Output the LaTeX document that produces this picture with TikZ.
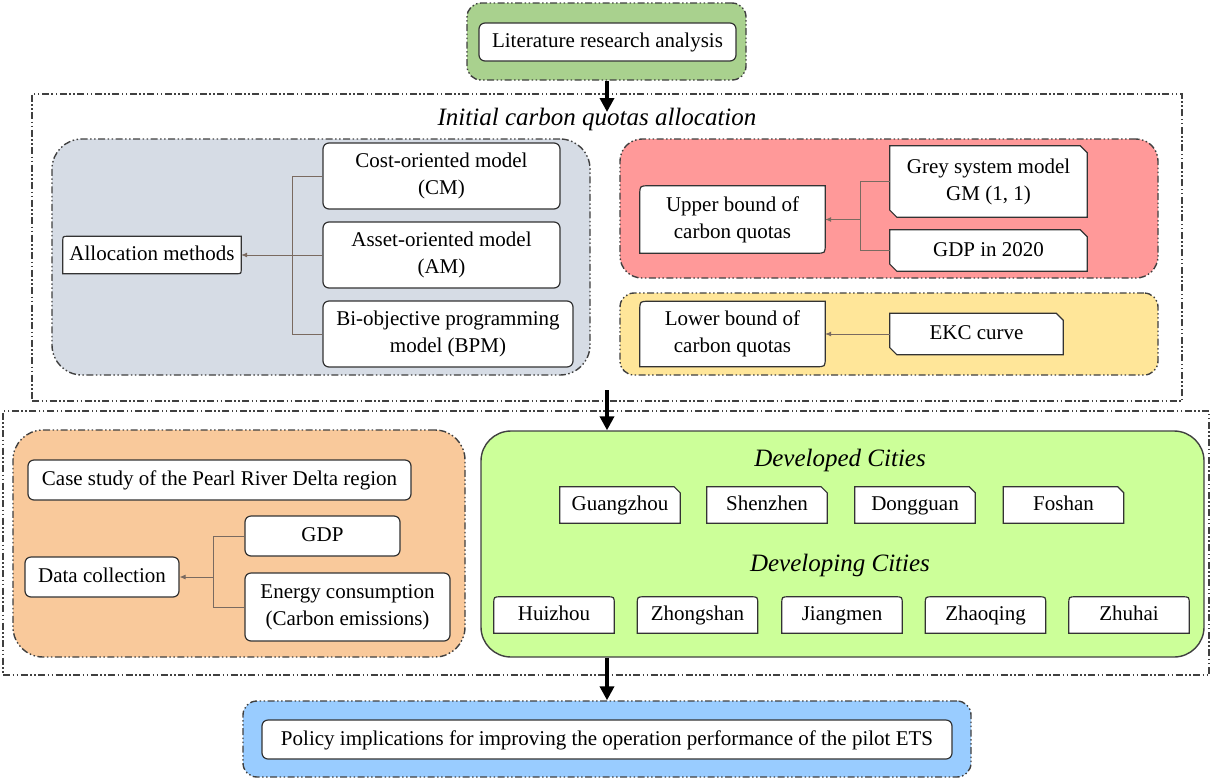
\documentclass[tikz,border=0pt]{standalone}
\usepackage{fontspec}
\setmainfont{Liberation Serif}
\usetikzlibrary{arrows.meta}
\pgfdeclarelayer{bg}\pgfdeclarelayer{mid}\pgfsetlayers{bg,mid,main}
\definecolor{cgrey}{HTML}{D6DCE5}
\definecolor{cred}{HTML}{FF9999}
\definecolor{cyel}{HTML}{FFE699}
\definecolor{corg}{HTML}{F9C99B}
\definecolor{cgrn}{HTML}{CCFF99}
\definecolor{cblu}{HTML}{99CCFF}
\definecolor{cgtop}{HTML}{A9D18E}
\definecolor{edgec}{HTML}{404040}
\definecolor{connc}{HTML}{7A6A60}
\tikzset{
 dd/.style={dash pattern=on 7pt off 2.5pt on 1.5pt off 2.5pt on 1.5pt off 2.5pt},
 frame/.style={draw=edgec, line width=1.2pt, dd, inner sep=0pt},
 panel/.style={draw=edgec, line width=1.4pt, dd, inner sep=0pt},
 wh/.style 2 args={minimum width=#1pt, minimum height=#2pt},
 one/.style={text height=15pt, text depth=4pt},
 box/.style={draw=black!80, line width=1.2pt, fill=white, rounded corners=6pt, font=\fontsize{21}{27}\selectfont, align=center, inner sep=0pt},
 plain/.style={font=\fontsize{21}{27}\selectfont, align=center, inner sep=0pt},
 shp/.style={draw=black!80, line width=1.2pt, fill=white},
 conn/.style={draw=connc, line width=0.8pt},
 connarrow/.style={conn, -{Latex[length=6pt,width=5pt]}},
 big/.style={line width=4pt, -{Triangle[length=14pt,width=14pt]}, black},
 ttl/.style={font=\fontsize{25}{28}\selectfont\itshape, inner sep=0pt}
}
\newcommand\snipdiag[2][7pt]{\begin{pgfonlayer}{mid}\filldraw[shp] (#2.north west) -- ([xshift=-#1]#2.north east) -- ([yshift=-#1]#2.north east) -- (#2.south east) -- ([xshift=#1]#2.south west) -- ([yshift=#1]#2.south west) -- cycle;\end{pgfonlayer}}
\newcommand\snipone[2][6pt]{\begin{pgfonlayer}{mid}\filldraw[shp] (#2.north west) -- ([xshift=-#1]#2.north east) -- ([yshift=-#1]#2.north east) -- (#2.south east) -- (#2.south west) -- cycle;\end{pgfonlayer}}
\newcommand\rounddiag[2][9pt]{\begin{pgfonlayer}{mid}\filldraw[shp] ([yshift=-#1]#2.north west) .. controls (#2.north west) .. ([xshift=#1]#2.north west) -- (#2.north east) -- ([yshift=#1]#2.south east) .. controls (#2.south east) .. ([xshift=-#1]#2.south east) -- (#2.south west) -- cycle;\end{pgfonlayer}}
\newcommand\roundtop[2][7pt]{\begin{pgfonlayer}{mid}\filldraw[shp] ([yshift=-#1]#2.north west) .. controls (#2.north west) .. ([xshift=#1]#2.north west) -- ([xshift=-#1]#2.north east) .. controls (#2.north east) .. ([yshift=-#1]#2.north east) -- (#2.south east) -- (#2.south west) -- cycle;\end{pgfonlayer}}
\begin{document}
\begin{tikzpicture}[x=1pt,y=-1pt]
\useasboundingbox (0,0) rectangle (1212,780);
% frames and panels
\begin{pgfonlayer}{bg}
\node[frame, wh={1150}{307}] (f1) at (607,247.5) {};
\node[frame, wh={1206}{264}] (f2) at (606,543) {};
\node[panel, fill=cgrey, rounded corners=30pt, wh={538}{236}] (pgrey) at (321,257) {};
\node[panel, fill=cred, rounded corners=22pt, wh={538}{139}] (pred) at (889,208.5) {};
\node[panel, fill=cyel, rounded corners=14pt, wh={538}{82}] (pyel) at (889,334) {};
\node[panel, fill=corg, rounded corners=30pt, wh={452}{227}] (porg) at (239,543.5) {};
\node[draw=edgec, line width=1.4pt, fill=cgrn, rounded corners=30pt, inner sep=0pt, wh={723}{226}] (grn) at (842.5,544) {};
\end{pgfonlayer}
% top box
\node[panel, fill=cgtop, rounded corners=14pt, wh={279}{77}] (top) at (606.5,41.5) {};
\node[box, one, wh={257}{38}] (lit) at (607.5,42) {Literature research analysis};
% title 1
\node[ttl] (t1) at (597,119) {Initial carbon quotas allocation};
% grey panel contents
\node[box, wh={237}{66}] (cm) at (441.5,176) {Cost-oriented model\\(CM)};
\node[box, wh={237}{66}] (am) at (441.5,255) {Asset-oriented model\\(AM)};
\node[box, wh={250}{66}] (bpm) at (448,334) {Bi-objective programming\\model (BPM)};
\node[plain, one, wh={178}{37}] (alloc) at (152,255) {Allocation methods};
\rounddiag[5pt]{alloc}
\coordinate (gj) at (292,255);
\draw[conn] (cm.west) -- (cm.west -| gj) -- (bpm.west -| gj) -- (bpm.west);
\draw[connarrow] (am.west) -- (alloc.east);
% red panel contents
\node[plain, wh={185}{67}] (upper) at (732.5,219.5) {Upper bound of\\carbon quotas};
\rounddiag{upper}
\node[plain, wh={197}{71}] (gsm) at (988.5,181.5) {Grey system model\\GM (1, 1)};
\snipdiag{gsm}
\node[plain, one, wh={197}{41}] (gdp20) at (988.5,250.5) {GDP in 2020};
\snipdiag{gdp20}
\coordinate (rj) at (860,219.5);
\draw[conn] (gsm.west) -- (gsm.west -| rj) -- (gdp20.west -| rj) -- (gdp20.west);
\draw[connarrow] (rj) -- (upper.east);
% yellow panel contents
\node[plain, wh={185}{65}] (lower) at (732.5,334) {Lower bound of\\carbon quotas};
\rounddiag{lower}
\node[plain, one, wh={173}{41}] (ekc) at (976.5,334) {EKC curve};
\snipdiag{ekc}
\draw[connarrow] (ekc.west) -- (lower.east);
% orange panel contents
\node[box, one, wh={383}{40}] (case) at (219.5,480) {Case study of the Pearl River Delta region};
\node[box, one, wh={154}{40}] (dc) at (102,577) {Data collection};
\node[box, one, wh={155}{40}] (gdp) at (322.5,536) {GDP};
\node[box, wh={205}{68}] (energy) at (347.5,607) {Energy consumption\\(Carbon emissions)};
\coordinate (oj) at (213,577);
\draw[conn] (gdp.west) -- (gdp.west -| oj) -- (energy.west -| oj) -- (energy.west);
\draw[connarrow] (oj) -- (dc.east);
% green panel contents
\node[ttl] (t2) at (840,460) {Developed Cities};
\node[plain, one, wh={120}{36}] (gz) at (620,505) {Guangzhou}; \snipone{gz}
\node[plain, one, wh={120}{36}] (sz) at (767,505) {Shenzhen}; \snipone{sz}
\node[plain, one, wh={120}{36}] (dg) at (915,505) {Dongguan}; \snipone{dg}
\node[plain, one, wh={120}{36}] (fs) at (1063.5,505) {Foshan}; \snipone{fs}
\node[ttl] (t3) at (840,565) {Developing Cities};
\node[plain, one, wh={120}{36}] (hz) at (554,615) {Huizhou}; \roundtop{hz}
\node[plain, one, wh={120}{36}] (zs) at (697.5,615) {Zhongshan}; \roundtop{zs}
\node[plain, one, wh={120}{36}] (jm) at (842,615) {Jiangmen}; \roundtop{jm}
\node[plain, one, wh={120}{36}] (zq) at (985.5,615) {Zhaoqing}; \roundtop{zq}
\node[plain, one, wh={120}{36}] (zh) at (1129,615) {Zhuhai}; \roundtop{zh}
% bottom box
\node[panel, fill=cblu, rounded corners=14pt, wh={728}{76}] (blue) at (607,739) {};
\node[box, one, wh={690}{39}] (policy) at (607,739.5) {Policy implications for improving the operation performance of the pilot ETS};
% big arrows
\coordinate (a1) at (607,112);
\draw[big] (top.south -| a1) -- (a1);
\coordinate (a2) at (607,390);
\draw[big] (a2) -- (a2 |- grn.north);
\draw[big] (blue.north |- grn.south) -- (blue.north);
\end{tikzpicture}
\end{document}
